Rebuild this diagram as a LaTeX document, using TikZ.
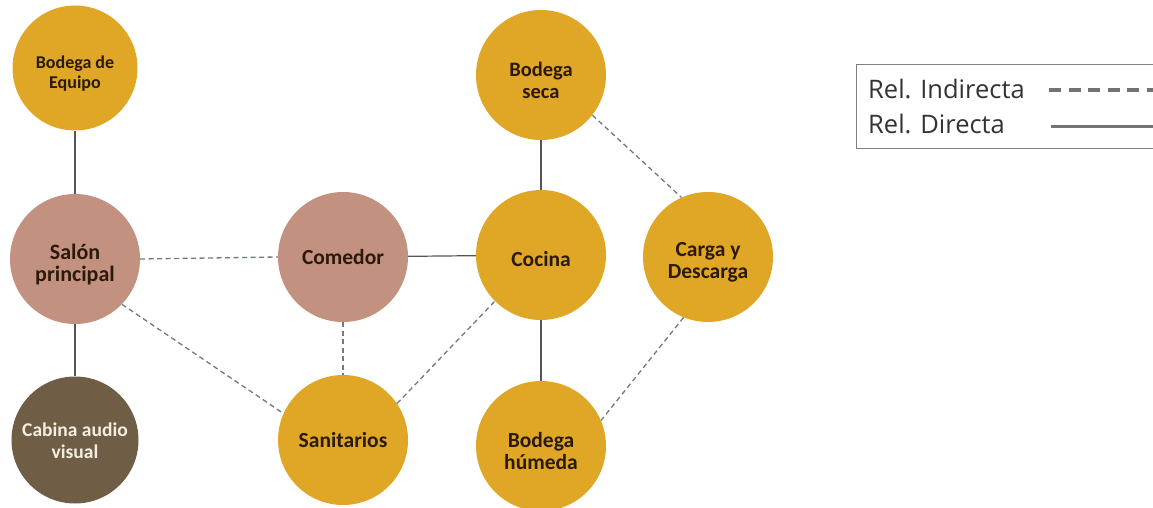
\documentclass[tikz,border=0pt]{standalone}
\usepackage{fontspec}
\setmainfont{Carlito}
\newfontfamily\legfont{Open Sans}
\definecolor{gold}{HTML}{E0A626}
\definecolor{rosy}{HTML}{C2917F}
\definecolor{umber}{HTML}{705D46}
\definecolor{ink}{HTML}{2B1A0A}
\definecolor{cream}{HTML}{F5EEDF}
\definecolor{solidc}{HTML}{555555}
\definecolor{dashc}{HTML}{727A7E}
\begin{document}
\begin{tikzpicture}[x=1pt,y=-1pt,
  room/.style={circle,minimum size=130pt,inner sep=0pt},
  goldroom/.style={room,fill=gold},
  rosyroom/.style={room,fill=rosy},
  umberroom/.style={room,fill=umber},
  roomtext/.style={inner sep=0pt,align=center,font=\fontsize{21.5}{22}\selectfont\bfseries,text=ink},
  direct/.style={draw=solidc,line width=1.2pt},
  indirect/.style={draw=dashc,line width=1.3pt,dash pattern=on 5pt off 3.5pt},
  legtext/.style={anchor=base west,inner sep=0pt,font=\legfont\fontsize{25.5}{27}\selectfont,text=black!80}]
\useasboundingbox (0,0) rectangle (1153,508);
% rooms
\node[goldroom,minimum size=125pt] (be) at (75,68) {};
\node[rosyroom] (sp) at (75,259) {};
\node[umberroom,minimum size=127pt] (cab) at (75,440) {};
\node[rosyroom] (com) at (343,257) {};
\node[goldroom] (san) at (343,440) {};
\node[goldroom] (bs) at (541,75) {};
\node[goldroom] (coc) at (541,255) {};
\node[goldroom] (cd) at (708,257) {};
\node[goldroom] (bh) at (541,446) {};
% room labels
\node[roomtext,font=\fontsize{18}{20}\selectfont\bfseries] (be-t) at ([yshift=-6pt]be.center) {Bodega de\\Equipo};
\node[roomtext,font=\fontsize{22}{22}\selectfont\bfseries] (sp-t) at ([yshift=-6pt]sp.center) {Salón\\principal};
\node[roomtext,text=cream,font=\fontsize{19.5}{22}\selectfont\bfseries] (cab-t) at ([yshift=-1pt]cab.center) {Cabina audio\\visual};
\node[roomtext] (com-t) at (com.center) {Comedor};
\node[roomtext] (san-t) at (san.center) {Sanitarios};
\node[roomtext,font=\fontsize{20.5}{22}\selectfont\bfseries] (bs-t) at ([yshift=-5pt]bs.center) {Bodega\\seca};
\node[roomtext] (coc-t) at ([yshift=-4pt]coc.center) {Cocina};
\node[roomtext] (cd-t) at ([yshift=-5pt]cd.center) {Carga y\\Descarga};
\node[roomtext] (bh-t) at ([yshift=-5pt]bh.center) {Bodega\\húmeda};
% direct relations
\draw[direct] (be) -- (sp);
\draw[direct] (sp) -- (cab);
\draw[direct] (com) -- (coc);
\draw[direct] (bs) -- (coc);
\draw[direct] (coc) -- (bh);
% indirect relations
\draw[indirect] (sp.east) -- (com.west);
\draw[indirect] (sp.-44) -- (san.156);
\draw[indirect] (com) -- (san);
\draw[indirect] (san.34) -- (coc.225);
\draw[indirect] (bs.-38) -- (cd.114);
\draw[indirect] (cd.248) -- (bh.23);
% legend
\coordinate (lgTR) at (1153,65);
\coordinate (lgBR) at (1153,148);
\draw[draw=black!50,line width=1pt] (lgTR) -- (856,65) -- (856,148) -- (lgBR);
\node[legtext] (li) at (868,99) {Rel. Indirecta};
\node[legtext] (ld) at (868,133) {Rel. Directa};
\coordinate (ls1) at (1049,90);
\coordinate (le1) at (1153,90);
\coordinate (ls2) at (1051,127);
\coordinate (le2) at (1153,127);
\draw[draw=black!55,line width=3.5pt,dash pattern=on 12pt off 7.5pt] (ls1) -- (le1);
\draw[draw=black!55,line width=3pt] (ls2) -- (le2);
\end{tikzpicture}
\end{document}
